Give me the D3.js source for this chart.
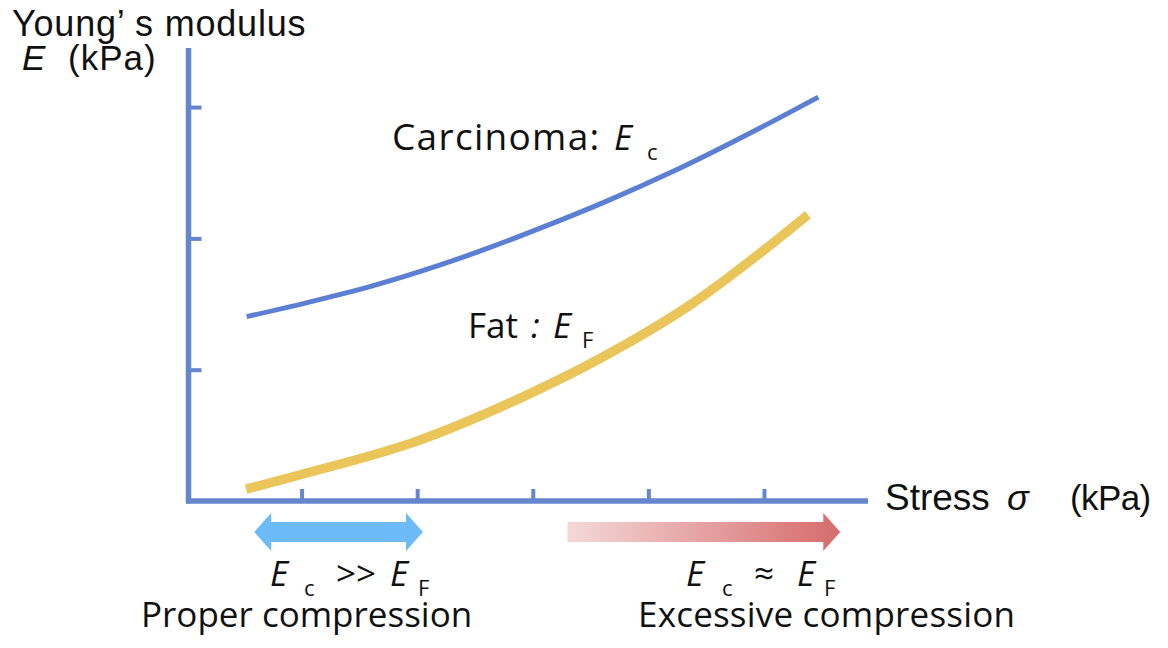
<!DOCTYPE html>
<html>
<head>
<meta charset="utf-8">
<script src="https://cdn.jsdelivr.net/npm/d3@7"></script>
<style>
  html, body { margin: 0; padding: 0; background: #fff; }
  svg { display: block; }
  .gothic { font-family: "Liberation Sans", Arial, sans-serif; }
  .calib { font-family: "Open Sans", "Noto Sans", sans-serif; }
</style>
</head>
<body>
<svg id="chart" width="1168" height="648"></svg>
<script>
// ---- data ----
const stressTicks = [1, 2, 3, 4, 5];
const modulusTicks = [1, 2, 3];
const carcinomaStress = [0.525, 1.04, 1.62, 2.20, 2.63, 3.06, 3.64, 4.22, 4.97, 5.47];
const carcinomaE      = [1.404, 1.509, 1.640, 1.798, 1.931, 2.076, 2.284, 2.513, 2.843, 3.076];
const fatStress = [0.52, 0.99, 2.01, 2.98, 3.41, 3.81, 4.39, 4.97, 5.38];
const fatE      = [0.09, 0.20, 0.46, 0.82, 1.005, 1.196, 1.51, 1.89, 2.18];
const properRange = [0.59, 2.05];
const excessiveRange = [3.30, 5.66];

// ---- layout ----
const svg = d3.select("#chart");
const x = d3.scaleLinear().domain([0, 5.9]).range([186, 868]);
const y = d3.scaleLinear().domain([0, 3.45]).range([501, 48]);
const axisColor = "#6586cc";

svg.append("line").attr("x1", 188.5).attr("x2", 188.5).attr("y1", y(3.45)).attr("y2", 503.5)
  .attr("stroke", axisColor).attr("stroke-width", 5.5);
svg.append("line").attr("x1", 186).attr("x2", x(5.9)).attr("y1", y(0)).attr("y2", y(0))
  .attr("stroke", axisColor).attr("stroke-width", 5.5);

const xAxis = d3.axisBottom(x).tickValues(stressTicks).tickSize(-12).tickFormat("");
const gx = svg.append("g").attr("transform", `translate(0,${y(0)})`).call(xAxis);
gx.select(".domain").remove();
gx.selectAll(".tick line").attr("stroke", axisColor).attr("stroke-width", 4);

const yAxis = d3.axisLeft(y).tickValues(modulusTicks).tickSize(-13).tickFormat("");
const gy = svg.append("g").attr("transform", `translate(188.5,0)`).call(yAxis);
gy.select(".domain").remove();
gy.selectAll(".tick line").attr("stroke", axisColor).attr("stroke-width", 4);

// curves
const line = d3.line().x(d => x(d[0])).y(d => y(d[1])).curve(d3.curveMonotoneX);
svg.append("path").datum(carcinomaStress.map((s, i) => [s, carcinomaE[i]]))
  .attr("d", line).attr("fill", "none").attr("stroke", "#5b7fd3").attr("stroke-width", 5);
svg.append("path").datum(fatStress.map((s, i) => [s, fatE[i]]))
  .attr("d", line).attr("fill", "none").attr("stroke", "#e9c55a").attr("stroke-width", 9.5);

// arrows
const defs = svg.append("defs");
const grad = defs.append("linearGradient").attr("id", "redgrad").attr("x1", "0%").attr("x2", "100%");
grad.append("stop").attr("offset", "0%").attr("stop-color", "#f4d8d8");
grad.append("stop").attr("offset", "100%").attr("stop-color", "#d66b6c");

const ay = 532, sh = 10, hh = 19, hl = 17;
{
  const a = x(properRange[0]), b = x(properRange[1]);
  const p = d3.path();
  p.moveTo(a, ay); p.lineTo(a + hl, ay - hh); p.lineTo(a + hl, ay - sh);
  p.lineTo(b - hl, ay - sh); p.lineTo(b - hl, ay - hh); p.lineTo(b, ay);
  p.lineTo(b - hl, ay + hh); p.lineTo(b - hl, ay + sh); p.lineTo(a + hl, ay + sh);
  p.lineTo(a + hl, ay + hh); p.closePath();
  svg.append("path").attr("d", p.toString()).attr("fill", "#6cbaf7");
}
{
  const a = x(excessiveRange[0]), b = x(excessiveRange[1]);
  const p = d3.path();
  p.moveTo(a, ay - sh); p.lineTo(b - hl, ay - sh); p.lineTo(b - hl, ay - hh); p.lineTo(b, ay);
  p.lineTo(b - hl, ay + hh); p.lineTo(b - hl, ay + sh); p.lineTo(a, ay + sh); p.closePath();
  svg.append("path").attr("d", p.toString()).attr("fill", "url(#redgrad)");
}

// ---- text ----
function txt(cls, xx, yy, s, size, italic) {
  return svg.append("text").attr("class", cls).attr("x", xx).attr("y", yy)
    .attr("font-size", size).attr("fill", "#111")
    .attr("font-style", italic ? "italic" : "normal").text(s);
}
function eSub(xx, yy, sub, subX) {
  const t = svg.append("text").attr("class", "calib").attr("x", xx).attr("y", yy)
    .attr("font-size", 35).attr("fill", "#111");
  t.append("tspan").attr("font-style", "italic").text("E");
  t.append("tspan").attr("x", subX).attr("dy", 10).attr("font-size", 22).text(sub);
  return t;
}

// axis titles
txt("gothic", 12, 36, "Young’ s modulus", 36).attr("letter-spacing", 0.8);
txt("gothic", 22, 70, "E", 35, true);
txt("gothic", 68, 70, "(kPa)", 35).attr("letter-spacing", 1);
txt("gothic", 885, 510, "Stress", 37);
txt("gothic", 1007, 510, "σ", 36, true);
txt("gothic", 1070, 510, "(kPa)", 35).attr("letter-spacing", -0.6);

// series labels
txt("calib", 392, 150, "Carcinoma:", 37).attr("letter-spacing", 1.3);
eSub(614, 150, "c", 647);
txt("calib", 468, 338, "Fat", 35);
txt("calib", 531, 338, ":", 35, true);
eSub(553, 338, "F", 582);

// bottom annotations
eSub(270, 586, "c", 304);
txt("calib", 336, 586, ">>", 35);
eSub(390, 586, "F", 418);
txt("calib", 141, 627, "Proper compression", 35);

eSub(686, 586, "c", 722);
txt("calib", 754, 586, "≈", 35);
eSub(797, 586, "F", 824);
txt("calib", 638, 627, "Excessive compression", 35).attr("letter-spacing", 0.2);
</script>
</body>
</html>
